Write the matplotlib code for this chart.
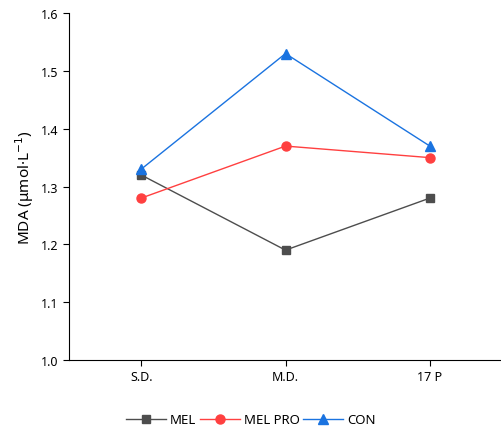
import matplotlib
matplotlib.use("Agg")
import matplotlib.pyplot as plt

# Data
categories = ["S.D.", "M.D.", "17 P"]
mel = [1.32, 1.19, 1.28]
mel_pro = [1.28, 1.37, 1.35]
con = [1.33, 1.53, 1.37]

plt.rcParams["font.family"] = ["Noto Sans", "DejaVu Sans"]

fig = plt.figure(figsize=(5.02, 4.27), dpi=100)
ax = fig.add_axes([0.1375, 0.1546, 0.8625, 0.8124])

x = range(len(categories))
ax.plot(x, mel, color="#4d4d4d", marker="s", markersize=5.5, linewidth=1, label="MEL")
ax.plot(x, mel_pro, color="#ff4040", marker="o", markersize=6.5, linewidth=1, label="MEL PRO")
ax.plot(x, con, color="#1a73e0", marker="^", markersize=7, linewidth=1, label="CON")

ax.set_xlim(-0.5, 2.5)
ax.set_ylim(1.0, 1.6)
ax.set_xticks(list(x))
ax.set_xticklabels(categories)
ax.set_yticks([1.0, 1.1, 1.2, 1.3, 1.4, 1.5, 1.6])
ax.set_yticklabels(["1.0", "1.1", "1.2", "1.3", "1.4", "1.5", "1.6"])
ax.tick_params(labelsize=9, direction="out", length=4)
ax.set_ylabel("MDA (μmol·L$^{-1}$)", fontsize=11)

ax.spines["top"].set_visible(False)
ax.spines["right"].set_visible(False)

ax.legend(loc="upper center", bbox_to_anchor=(0.42, -0.12), ncol=3, frameon=False,
          fontsize=9.5, handlelength=3, columnspacing=0.3, handletextpad=0.3)

plt.savefig("out.png", dpi=100)
